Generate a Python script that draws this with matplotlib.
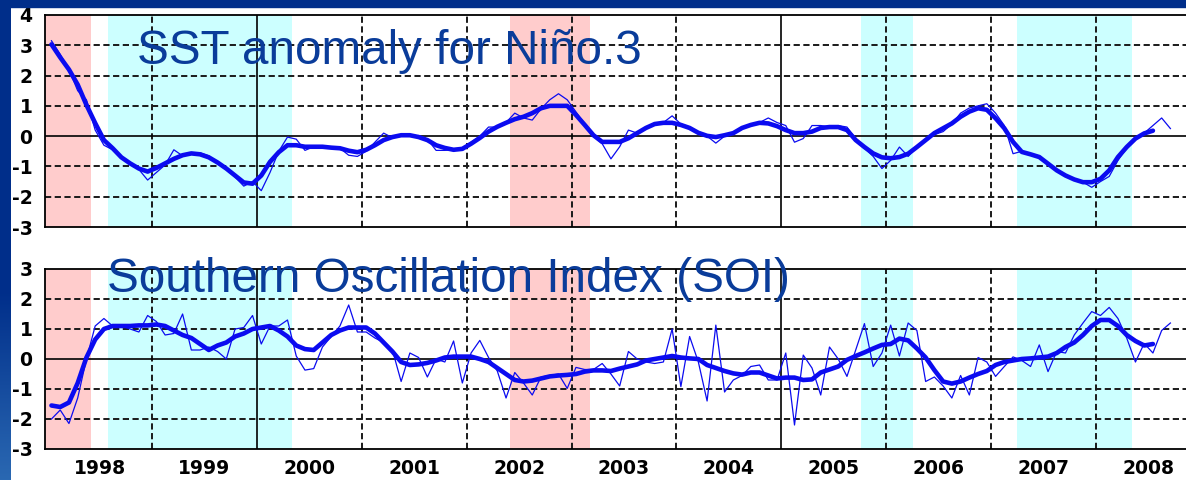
import numpy as np
import matplotlib
matplotlib.use("Agg")
import matplotlib.pyplot as plt
from matplotlib.patches import Rectangle
from matplotlib.colors import LinearSegmentedColormap

plt.rcParams["axes.unicode_minus"] = False

# monthly values, Jan 1998 onwards
sst_monthly = [
    3.15, 2.7, 2.2, 1.5, 1.2, 0.2, -0.3, -0.45, -0.7, -0.9, -1.1, -1.45,
    -1.2, -0.95, -0.45, -0.65, -0.6, -0.55, -0.65, -0.9, -1.1, -1.35, -1.65, -1.5,
    -1.8, -1.2, -0.5, -0.03, -0.1, -0.47, -0.35, -0.33, -0.37, -0.4, -0.63, -0.67,
    -0.5, -0.2, 0.1, -0.05, 0.05, 0.0, 0.02, -0.1, -0.47, -0.47, -0.45, -0.42,
    -0.2, 0.0, 0.3, 0.3, 0.45, 0.76, 0.6, 0.53, 0.9, 1.2, 1.4, 1.2,
    0.8, 0.4, 0.0, -0.25, -0.75, -0.35, 0.2, 0.1, 0.25, 0.4, 0.45, 0.67,
    0.4, 0.3, 0.1, 0.0, -0.23, 0.0, 0.1, 0.3, 0.35, 0.45, 0.6, 0.45,
    0.35, -0.2, -0.08, 0.35, 0.35, 0.3, 0.35, 0.3, -0.1, -0.4, -0.67, -1.07,
    -0.8, -0.36, -0.67, -0.35, -0.13, 0.05, 0.15, 0.4, 0.76, 0.93, 1.0, 1.07,
    0.76, 0.35, -0.58, -0.5, -0.6, -0.65, -0.9, -1.13, -1.3, -1.43, -1.52, -1.69,
    -1.5, -1.33, -0.8, -0.4, -0.1, 0.1, 0.35, 0.6, 0.25,
]
sst_smooth = [
    3.03, 2.6, 2.2, 1.7, 1.03, 0.43, -0.13, -0.4, -0.7, -0.9, -1.07, -1.17,
    -1.05, -0.9, -0.75, -0.63, -0.57, -0.6, -0.7, -0.87, -1.07, -1.3, -1.53, -1.57,
    -1.3, -0.85, -0.53, -0.3, -0.3, -0.35, -0.35, -0.35, -0.38, -0.4, -0.48, -0.53,
    -0.45, -0.3, -0.13, -0.03, 0.03, 0.03, -0.03, -0.13, -0.3, -0.39, -0.45, -0.42,
    -0.25, -0.06, 0.15, 0.31, 0.44, 0.56, 0.64, 0.76, 0.92, 1.0, 1.0, 1.0,
    0.7, 0.37, 0.03, -0.19, -0.19, -0.19, -0.07, 0.1, 0.27, 0.4, 0.44, 0.44,
    0.37, 0.27, 0.11, 0.01, -0.03, 0.03, 0.1, 0.27, 0.37, 0.44, 0.42, 0.33,
    0.2, 0.1, 0.1, 0.15, 0.27, 0.3, 0.3, 0.2, -0.13, -0.36, -0.57, -0.7,
    -0.73, -0.69, -0.58, -0.36, -0.13, 0.1, 0.26, 0.42, 0.64, 0.81, 0.92, 0.87,
    0.59, 0.26, -0.19, -0.52, -0.6, -0.69, -0.91, -1.13, -1.3, -1.43, -1.52, -1.52,
    -1.41, -1.13, -0.69, -0.36, -0.08, 0.09, 0.18,
]
soi_monthly = [
    -2.0, -1.7, -2.15, -1.3, 0.0, 1.1, 1.35, 1.1, 1.1, 1.0, 0.9, 1.45,
    1.25, 0.8, 0.85, 1.5, 0.3, 0.3, 0.4, 0.25, 0.0, 1.0, 1.05, 1.45,
    0.5, 1.1, 1.1, 1.3, 0.1, -0.37, -0.32, 0.4, 0.75, 1.1, 1.8, 0.9,
    0.9, 0.7, 0.55, 0.3, -0.75, 0.2, 0.05, -0.6, 0.0, -0.1, 0.6, -0.8,
    0.2, 0.62, 0.05, -0.4, -1.3, -0.45, -0.8, -1.2, -0.6, -0.55, -0.5, -0.98,
    -0.28, -0.35, -0.35, -0.15, -0.5, -0.9, 0.25, 0.0, -0.1, -0.15, -0.1, 1.0,
    -0.92, 0.75, -0.1, -1.4, 1.13, -1.1, -0.7, -0.55, -0.25, -0.2, -0.7, -0.7,
    0.2, -2.2, 0.13, -0.3, -1.2, 0.4, 0.0, -0.58, 0.3, 1.18, -0.25, 0.2,
    1.13, 0.1, 1.2, 0.95, -0.75, -0.6, -0.9, -1.3, -0.55, -1.2, 0.05, -0.1,
    -0.58, -0.25, 0.07, -0.05, -0.25, 0.47, -0.42, 0.25, 0.2, 0.8, 1.2, 1.58,
    1.45, 1.72, 1.35, 0.7, -0.1, 0.52, 0.2, 0.95, 1.2,
]
soi_smooth = [
    -1.55, -1.6, -1.45, -0.8, 0.05, 0.65, 1.0, 1.1, 1.1, 1.1, 1.12, 1.12,
    1.15, 1.1, 0.95, 0.8, 0.7, 0.5, 0.3, 0.45, 0.55, 0.75, 0.85, 1.0,
    1.05, 1.1, 0.95, 0.75, 0.45, 0.33, 0.3, 0.55, 0.8, 0.95, 1.05, 1.05,
    1.05, 0.85, 0.55, 0.25, -0.1, -0.2, -0.18, -0.13, -0.05, 0.05, 0.08, 0.08,
    0.08, 0.0, -0.1, -0.3, -0.5, -0.7, -0.75, -0.72, -0.65, -0.58, -0.55, -0.53,
    -0.5, -0.42, -0.38, -0.38, -0.4, -0.32, -0.25, -0.18, -0.05, 0.0, 0.05, 0.1,
    0.05, 0.02, 0.0, -0.2, -0.3, -0.4, -0.48, -0.52, -0.45, -0.45, -0.55, -0.65,
    -0.62, -0.62, -0.7, -0.68, -0.45, -0.35, -0.25, -0.03, 0.1, 0.22, 0.35, 0.47,
    0.5, 0.68, 0.62, 0.35, 0.05, -0.37, -0.75, -0.82, -0.75, -0.62, -0.5, -0.4,
    -0.2, -0.1, -0.05, 0.0, 0.02, 0.05, 0.08, 0.2, 0.4, 0.55, 0.8, 1.1,
    1.3, 1.3, 1.1, 0.8, 0.6, 0.45, 0.5,
]

years = list(range(1998, 2009))
year_labels = [str(y) for y in years]
el_nino = [(1997.9, 1998.42), (2002.41, 2003.18)]
la_nina = [(1998.58, 2000.33), (2005.76, 2006.25), (2007.25, 2008.34)]
solid_years = [2000, 2005]

TEXT_BLUE = "#0a3c9a"
LINE_BLUE = "#0b0bf0"

W, H = 1186, 480


def box(l, t, r, b):
    return [l / W, 1 - b / H, (r - l) / W, (b - t) / H]


def month_times(n):
    return 1998 + (np.arange(n) + 0.5) / 12


fig = plt.figure(figsize=(W / 100, H / 100), dpi=100, facecolor="white")

# slide background strips
fig.patches.append(Rectangle((0, 1 - 7 / H), 1, 7 / H, transform=fig.transFigure,
                             color="#002e8a", zorder=0))
strip = fig.add_axes([0, 0, 11 / W, 1])
grad = np.concatenate([np.zeros(290), np.linspace(0, 1, 190)]).reshape(-1, 1)
strip.imshow(grad, aspect="auto",
             cmap=LinearSegmentedColormap.from_list("s", ["#002e8a", "#2a68b2"]))
strip.axis("off")


def draw_panel(ax, thin, smooth, ymin, ymax, show_x):
    for a, b in el_nino:
        ax.axvspan(a, b, color="#ffcccc", lw=0, zorder=0)
    for a, b in la_nina:
        ax.axvspan(a, b, color="#ccffff", lw=0, zorder=0)
    for y in years[1:]:
        if y in solid_years:
            ax.axvline(y, color="black", lw=1.2, zorder=1)
        else:
            ax.axvline(y, color="#1a1a1a", lw=1.4, ls=(0, (3.2, 1.8)), zorder=1)
    for v in range(ymin + 1, ymax):
        if v == 0:
            ax.axhline(v, color="black", lw=1.2, zorder=1)
        else:
            ax.axhline(v, color="#1a1a1a", lw=1.4, ls=(0, (3.2, 1.8)), zorder=1)

    ax.plot(month_times(len(thin)), thin, color=LINE_BLUE, lw=0.9, zorder=3)
    ax.plot(month_times(len(smooth)), smooth, color=LINE_BLUE, lw=3.3,
            solid_capstyle="round", zorder=4)

    ax.set_xlim(1997.98, 2009.0)
    ax.set_ylim(ymin, ymax)
    ax.set_yticks(range(ymin, ymax + 1))
    ax.tick_params(length=0, pad=9, labelsize=13.5)
    for lab in ax.get_yticklabels():
        lab.set_fontweight("bold")
    if show_x:
        ax.set_xticks([y + 0.5 for y in years], labels=year_labels,
                      fontweight="bold", fontsize=13.5)
        ax.tick_params(axis="x", pad=7)
    else:
        ax.set_xticks([])
    for s in ax.spines.values():
        s.set_color("black")
        s.set_linewidth(1.3)


ax1 = fig.add_axes(box(45, 15, 1201, 227))
draw_panel(ax1, sst_monthly, sst_smooth, -3, 4, False)

ax2 = fig.add_axes(box(45, 269, 1201, 449))
draw_panel(ax2, soi_monthly, soi_smooth, -3, 3, True)

fig.text(137 / W, 1 - 64 / H, "SST anomaly for Niño.3", color=TEXT_BLUE,
         fontsize=34.3, family="Liberation Sans", va="baseline", zorder=10)
fig.text(107 / W, 1 - 292 / H, "Southern Oscillation Index (SOI)", color=TEXT_BLUE,
         fontsize=34.3, family="Liberation Sans", va="baseline", zorder=10)

fig.savefig("out.png", dpi=100, facecolor="white")
